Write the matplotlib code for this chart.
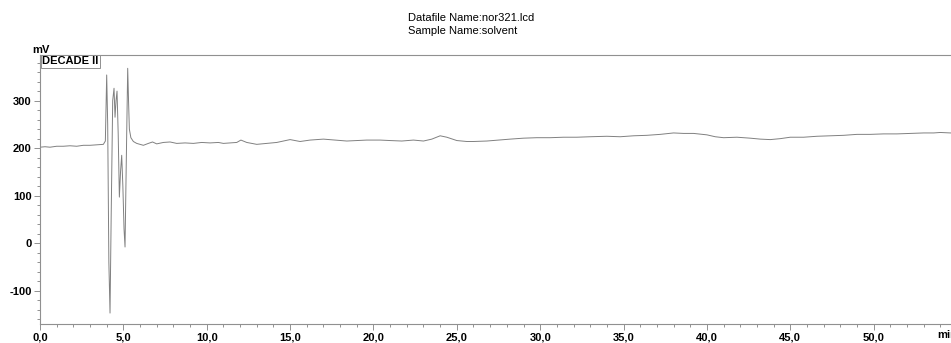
import matplotlib.pyplot as plt
from matplotlib.ticker import MultipleLocator, FuncFormatter

plt.rcParams['font.family'] = ['Liberation Sans', 'DejaVu Sans']

# chromatogram (time in min, signal in mV)
time_min = [
    0.0, 0.3, 0.6, 1.0, 1.4, 1.8, 2.2, 2.6, 3.0, 3.4, 3.8, 3.92,
    4.0, 4.06, 4.13, 4.2, 4.27, 4.36, 4.44, 4.5, 4.56, 4.62, 4.69,
    4.76, 4.83, 4.9, 4.97, 5.04, 5.1, 5.17, 5.26, 5.31, 5.36, 5.45,
    5.6, 5.8, 6.0, 6.2, 6.5, 6.75, 7.0, 7.4, 7.8, 8.2, 8.7, 9.2, 9.7,
    10.2, 10.7, 11.0, 11.4, 11.8, 12.05, 12.4, 13.0, 13.6, 14.2, 14.6,
    15.0, 15.6, 16.2, 17.0, 17.7, 18.4, 19.0, 19.6, 20.4, 21.0, 21.7,
    22.4, 23.0, 23.5, 24.0, 24.4, 25.0, 25.6, 26.0, 26.8, 27.5, 28.2,
    29.0, 29.8, 30.6, 31.4, 32.2, 33.0, 34.0, 34.8, 35.6, 36.4, 37.2,
    38.0, 38.6, 39.2, 40.0, 40.5, 41.0, 41.8, 42.6, 43.2, 43.8, 44.4,
    45.0, 45.8, 46.6, 47.4, 48.2, 49.0, 49.8, 50.6, 51.4, 52.2, 53.0,
    53.6, 54.0, 54.6, 55.2,
]
signal_mv = [
    202, 203, 202, 204, 204, 205, 204, 206, 206, 207, 208, 215,
    354, 250, -40, -147, 60, 300, 326, 265, 300, 320, 230,
    97, 150, 185, 120, 30, -8, 160, 368, 300, 240, 222,
    214, 210, 208, 206, 210, 213, 209, 212, 213, 210, 211, 210, 212,
    211, 212, 210, 211, 212, 217, 212, 208, 210, 212, 215,
    218, 214, 217, 219, 217, 215, 216, 217, 217, 216, 215,
    217, 215, 219, 226, 223, 216, 214, 214, 215, 217, 219,
    221, 222, 222, 223, 223, 224, 225, 224, 226, 227, 229,
    232, 231, 231, 228, 224, 222, 223, 221, 219, 218, 220,
    223, 223, 225, 226, 227, 229, 229, 230, 230, 231, 232,
    232, 233, 232, 232,
]

fig = plt.figure(figsize=(9.51, 3.43), dpi=100)
ax = fig.add_axes([40 / 951, 19 / 343, 917 / 951, 269 / 343])

ax.plot(time_min, signal_mv, color='#808080', linewidth=0.7)

ax.set_xlim(0, 55)
ax.set_ylim(-170, 396)

ax.xaxis.set_major_locator(MultipleLocator(5))
ax.xaxis.set_minor_locator(MultipleLocator(1))
ax.yaxis.set_major_locator(MultipleLocator(100))
ax.yaxis.set_minor_locator(MultipleLocator(20))
ax.xaxis.set_major_formatter(FuncFormatter(
    lambda v, p: '' if v > 52 else f"{v:.1f}".replace('.', ',')))
ax.yaxis.set_major_formatter(FuncFormatter(lambda v, p: f"{v:.0f}"))

ax.tick_params(axis='both', which='major', labelsize=8, length=4,
               width=0.6, color='#808080', pad=2)
ax.tick_params(axis='both', which='minor', length=2.5, width=0.6,
               color='#808080')
for lab in ax.get_xticklabels() + ax.get_yticklabels():
    lab.set_fontweight('bold')

for side in ['left', 'bottom', 'top']:
    ax.spines[side].set_color('#909090')
    ax.spines[side].set_linewidth(0.8)
ax.spines['right'].set_visible(False)

ax.text(-0.008, 1.0, 'mV', transform=ax.transAxes, ha='left', va='bottom',
        fontsize=8, fontweight='bold')
ax.text(0.002, 0.995, 'DECADE II', transform=ax.transAxes, ha='left',
        va='top', fontsize=8, fontweight='bold',
        bbox=dict(boxstyle='square,pad=0.12', facecolor='white',
                  edgecolor='#909090', linewidth=0.7))

fig.text(937 / 951, 3 / 343, 'min', ha='left', va='bottom', fontsize=8,
         fontweight='bold')
fig.text(408 / 951, 1 - 18 / 343, 'Datafile Name:nor321.lcd', ha='left',
         va='center', fontsize=8)
fig.text(408 / 951, 1 - 31 / 343, 'Sample Name:solvent', ha='left',
         va='center', fontsize=8)

fig.savefig('out.png', dpi=100)
